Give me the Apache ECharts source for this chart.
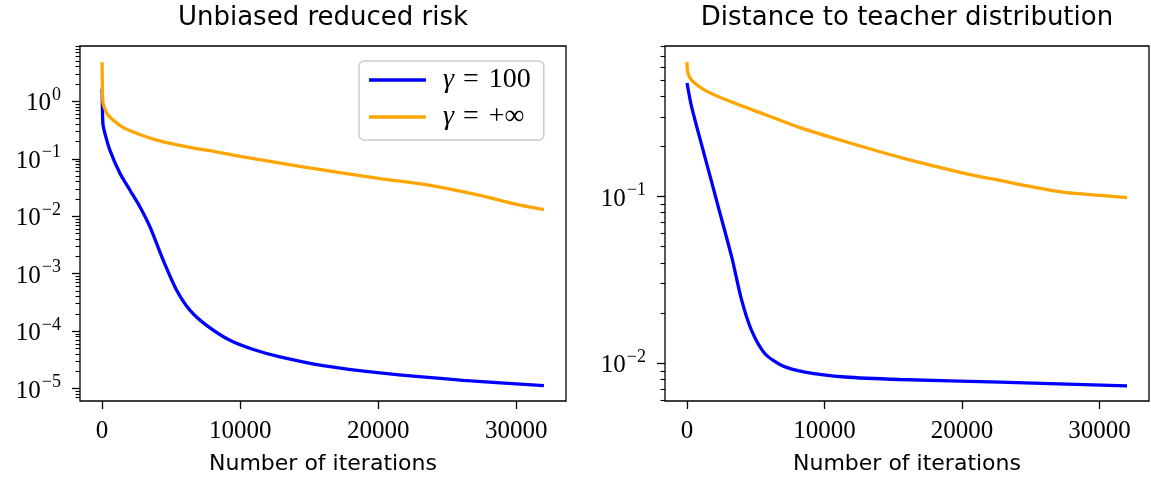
<!DOCTYPE html>
<html>
<head>
<meta charset="utf-8">
<script src="https://cdn.jsdelivr.net/npm/echarts@6/dist/echarts.min.js"></script>
<style>
  html, body { margin: 0; padding: 0; background: #fff; }
  #chart { width: 1151px; height: 482px; }
</style>
</head>
<body>
<div id="chart"></div>
<script>
// Panel titles and axis name
const panelTitles = ['Unbiased reduced risk', 'Distance to teacher distribution'];
const xAxisName = 'Number of iterations';
const seriesNames = ['γ = 100', 'γ = +∞'];

// Iteration ticks shared by both panels
const iterTicks = [0, 10000, 20000, 30000];
const iterRange = [-1600, 33600];

// Left panel: unbiased reduced risk
const riskIter100 = [0, 20, 60, 210, 570, 1300, 2020, 2745, 3470, 4430, 5400, 6370, 7570, 9260, 10960, 12890, 16000, 20130, 26160, 32000];
const riskVal100 = [1.66, 0.9, 0.41, 0.274, 0.14, 0.0552, 0.0283, 0.0145, 0.0065, 0.00171, 5.14e-4, 2.3e-4, 1.26e-4, 6.92e-5, 4.78e-5, 3.55e-5, 2.5e-5, 1.87e-5, 1.39e-5, 1.13e-5];
const riskIterInf = [0, 50, 150, 333, 815, 1540, 2260, 3230, 4430, 5640, 6850, 8050, 10000, 14330, 20130, 23750, 27370, 29780, 32000];
const riskValInf = [4.8, 1.0, 0.80, 0.62, 0.467, 0.348, 0.292, 0.239, 0.196, 0.171, 0.150, 0.135, 0.110, 0.074, 0.0452, 0.0345, 0.0231, 0.0166, 0.0130];
const riskRange = [6.08e-6, 9.17];
const riskMajorTicks = [1e-5, 1e-4, 1e-3, 1e-2, 1e-1, 1];

// Right panel: distance to teacher distribution
const distIter100 = [0, 340, 1310, 2280, 3250, 3980, 4700, 5670, 6890, 8580, 11490, 15490, 22760, 32000];
const distVal100 = [0.480, 0.344, 0.172, 0.0865, 0.0434, 0.0238, 0.0157, 0.0114, 0.0097, 0.00885, 0.00826, 0.00798, 0.0077, 0.0073];
const distIterInf = [0, 50, 340, 1310, 3250, 5670, 8100, 11490, 15490, 20340, 22760, 25190, 27610, 30040, 32000];
const distValInf = [0.641, 0.558, 0.498, 0.434, 0.369, 0.311, 0.261, 0.214, 0.172, 0.137, 0.125, 0.114, 0.1055, 0.1017, 0.0985];
const distRange = [0.00593, 0.801];
const distMajorTicks = [1e-2, 1e-1];

const BLUE = '#0000ff';
const ORANGE = '#ffa500';
const SERIF = '"Liberation Serif", "DejaVu Serif", serif';
const SANS = '"DejaVu Sans", sans-serif';

// 2..9 x 10^k minor ticks that fall inside a log range
function minorTicks(range) {
  const out = [];
  const lo = Math.floor(Math.log10(range[0]));
  const hi = Math.ceil(Math.log10(range[1]));
  for (let e = lo; e <= hi; e++) {
    for (let m = 2; m <= 9; m++) {
      const v = Number((m * Math.pow(10, e)).toPrecision(6));
      if (v >= range[0] && v <= range[1]) out.push(v);
    }
  }
  return out;
}

function pairs(xs, ys) { return xs.map((x, i) => [x, ys[i]]); }

function powerLabel(v) {
  const e = Math.round(Math.log10(v));
  return '{b|10}{s|' + String(e).replace('-', '\u2212') + '}';
}

const labelRich = {
  b: { fontFamily: SERIF, fontSize: 25, color: '#000', lineHeight: 30, verticalAlign: 'bottom' },
  s: { fontFamily: SERIF, fontSize: 18, color: '#000', lineHeight: 30, verticalAlign: 'top', padding: [0, 0, 0, 1] }
};

const grids = [
  { left: 80, top: 46, width: 486, height: 355 },
  { left: 665, top: 46, width: 484, height: 355 }
];

function xAxisFor(i) {
  return {
    type: 'value', gridIndex: i, min: iterRange[0], max: iterRange[1],
    axisLine: { show: false, onZero: false },
    splitLine: { show: false },
    axisTick: { show: true, customValues: iterTicks, length: 8, lineStyle: { color: '#000', width: 1.3 } },
    axisLabel: { customValues: iterTicks, margin: 18, fontFamily: SERIF, fontSize: 25, color: '#000',
      formatter: v => String(v) },
    name: xAxisName, nameLocation: 'middle', nameGap: 52,
    nameTextStyle: { fontFamily: SANS, fontSize: 22, color: '#000' }
  };
}

function yAxesFor(i, range, major) {
  return [
    {
      type: 'log', gridIndex: i, min: range[0], max: range[1], position: 'left',
      axisLine: { show: false, onZero: false }, splitLine: { show: false },
      axisTick: { show: true, customValues: major, length: 8, lineStyle: { color: '#000', width: 1.3 } },
      axisLabel: { customValues: major, margin: 19, formatter: powerLabel, rich: labelRich }
    },
    {
      type: 'log', gridIndex: i, min: range[0], max: range[1], position: 'left',
      axisLine: { show: false, onZero: false }, splitLine: { show: false },
      axisTick: { show: true, customValues: minorTicks(range), length: 4.5, lineStyle: { color: '#000', width: 1.1 } },
      axisLabel: { show: false }
    }
  ];
}

function lineSeries(name, color, xi, yi, data) {
  return {
    name, type: 'line', xAxisIndex: xi, yAxisIndex: yi, data,
    showSymbol: false, symbol: 'none', smooth: 0.25,
    lineStyle: { color, width: 3.3 }, itemStyle: { color }, clip: true
  };
}

const chart = echarts.init(document.getElementById('chart'), null, { renderer: 'canvas' });
chart.setOption({
  animation: false,
  backgroundColor: '#fff',
  title: [
    { text: panelTitles[0], left: 323, top: 5, textAlign: 'center', padding: 0,
      textStyle: { fontFamily: SANS, fontSize: 26, fontWeight: 'normal', color: '#000' } },
    { text: panelTitles[1], left: 907, top: 5, textAlign: 'center', padding: 0,
      textStyle: { fontFamily: SANS, fontSize: 26, fontWeight: 'normal', color: '#000' } }
  ],
  legend: {
    data: seriesNames,
    orient: 'vertical', left: 359, top: 61,
    padding: [4, 13, 8, 10], itemGap: 7,
    icon: 'rect', itemWidth: 57, itemHeight: 3.5,
    backgroundColor: 'rgba(255,255,255,0.8)', borderColor: '#cccccc', borderWidth: 1.5, borderRadius: 5,
    formatter: function (name) {
      const parts = name.split(' ');
      return '{g|' + parts[0] + '}{e|' + parts[1] + '}{t|' + parts[2] + '}';
    },
    textStyle: {
      lineHeight: 30,
      rich: {
        g: { fontFamily: SERIF, fontStyle: 'italic', fontSize: 28, color: '#000', padding: [0, 0, 0, 12] },
        e: { fontFamily: SERIF, fontSize: 28, color: '#000', padding: [0, 10, 0, 9] },
        t: { fontFamily: SERIF, fontSize: 28, color: '#000' }
      }
    }
  },
  grid: grids.map(g => Object.assign({ show: true, borderColor: '#000', borderWidth: 1.3, backgroundColor: 'transparent' }, g)),
  xAxis: [xAxisFor(0), xAxisFor(1)],
  yAxis: [].concat(yAxesFor(0, riskRange, riskMajorTicks), yAxesFor(1, distRange, distMajorTicks)),
  series: [
    lineSeries(seriesNames[0], BLUE, 0, 0, pairs(riskIter100, riskVal100)),
    lineSeries(seriesNames[1], ORANGE, 0, 0, pairs(riskIterInf, riskValInf)),
    lineSeries(seriesNames[0], BLUE, 1, 2, pairs(distIter100, distVal100)),
    lineSeries(seriesNames[1], ORANGE, 1, 2, pairs(distIterInf, distValInf))
  ]
});
</script>
</body>
</html>
